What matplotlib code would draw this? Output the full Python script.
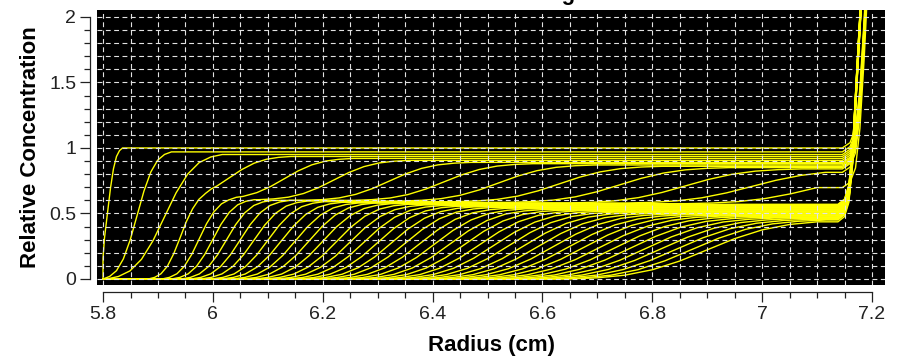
import numpy as np
import matplotlib
matplotlib.use('Agg')
import matplotlib.pyplot as plt
from matplotlib.ticker import MultipleLocator

plt.rcParams['font.family'] = ['Liberation Sans', 'DejaVu Sans']
plt.rcParams['lines.scale_dashes'] = False

# boundary of the slowly sedimenting part, one value per scan (cm)
SLOW_MID = [5.808, 5.862, 5.912, 5.940, 5.975, 6.000, 6.025, 6.050, 6.075, 6.100,
            6.125, 6.150, 6.175, 6.200, 6.225, 6.250, 6.275, 6.300, 6.325, 6.350,
            6.377, 6.404, 6.431, 6.458, 6.485, 6.512, 6.539, 6.566, 6.593, 6.620,
            6.648, 6.676, 6.704, 6.732, 6.760, 6.788, 6.816, 6.844, 6.872, 6.900]
SLOW_WIDTH = [0.011, 0.025, 0.042, 0.023, 0.027, 0.030, 0.033, 0.036, 0.039, 0.041,
              0.044, 0.046, 0.048, 0.050, 0.052, 0.054, 0.056, 0.058, 0.060, 0.062,
              0.064, 0.066, 0.068, 0.070, 0.072, 0.074, 0.076, 0.078, 0.080, 0.082,
              0.084, 0.086, 0.088, 0.090, 0.092, 0.094, 0.096, 0.097, 0.098, 0.100]
SLOW_PLATEAU = [0.620, 0.620, 0.615, 0.610, 0.610, 0.605, 0.600, 0.600, 0.595, 0.590,
                0.585, 0.580, 0.580, 0.575, 0.570, 0.565, 0.560, 0.555, 0.550, 0.545,
                0.540, 0.535, 0.530, 0.525, 0.520, 0.515, 0.510, 0.505, 0.500, 0.495,
                0.490, 0.485, 0.480, 0.475, 0.470, 0.465, 0.460, 0.455, 0.450, 0.445]

# fast boundary, only for the first scans (first three move together with the slow one)
FAST_MID = [5.808, 5.862, 5.912, 6.030, 6.130, 6.220, 6.320, 6.420, 6.520, 6.630,
            6.740, 6.860, 6.980, 7.100]
FAST_WIDTH = [0.011, 0.025, 0.042, 0.045, 0.050, 0.055, 0.060, 0.065, 0.070, 0.075,
              0.080, 0.085, 0.090, 0.095]
TOTAL_PLATEAU = [1.000, 0.970, 0.950, 0.935, 0.920, 0.905, 0.890, 0.880, 0.870, 0.860,
                 0.850, 0.840, 0.830, 0.820]

# shape of one boundary step (offset in widths -> fraction of the step)
SHAPE_Z = [-2.5, -2.0, -1.5, -1.0, -0.5, 0.0, 0.5, 1.0, 1.5, 2.0, 2.5]
SHAPE_FRAC = [0.0, 0.02, 0.065, 0.158, 0.308, 0.5, 0.692, 0.842, 0.935, 0.98, 1.0]

# cell bottom: rise added on top of each scan's last value
BOTTOM_R_EARLY = [7.146, 7.160, 7.170, 7.178, 7.186, 7.200]
BOTTOM_R_LATE = [7.138, 7.150, 7.158, 7.165, 7.172, 7.188]
BOTTOM_RISE = [0.0, 0.04, 0.15, 0.45, 1.0, 2.2]

MENISCUS = 5.8

X_TICKS = [5.8, 6.0, 6.2, 6.4, 6.6, 6.8, 7.0, 7.2]
X_TICK_LABELS = ['5.8', '6', '6.2', '6.4', '6.6', '6.8', '7', '7.2']
Y_TICKS = [0, 0.5, 1, 1.5, 2]
Y_TICK_LABELS = ['0', '0.5', '1', '1.5', '2']


def scan_profile(i):
    z = np.array(SHAPE_Z)
    frac = np.array(SHAPE_FRAC)
    ps = SLOW_PLATEAU[i]
    xs = SLOW_MID[i] + z * SLOW_WIDTH[i]
    bottom_r = BOTTOM_R_LATE
    if i < len(FAST_MID):
        pt = TOTAL_PLATEAU[i]
        bottom_r = BOTTOM_R_EARLY
        if FAST_MID[i] - SLOW_MID[i] < 0.01:
            # both parts still together: one step
            r = xs
            c = pt * frac
        else:
            xf = FAST_MID[i] + z * FAST_WIDTH[i]
            r = np.union1d(xs, xf)
            c = (ps * np.interp(r, xs, frac)
                 + (pt - ps) * np.interp(r, xf, frac))
    else:
        r = xs
        c = ps * frac
    r = np.maximum(r, MENISCUS)
    keep = r < bottom_r[0]
    r, c = r[keep], c[keep]
    if r[0] > MENISCUS:
        r = np.concatenate([[MENISCUS], r])
        c = np.concatenate([[0.0], c])
    last = c[-1]
    r = np.concatenate([r, bottom_r])
    c = np.concatenate([c, last + np.array(BOTTOM_RISE)])
    return r, c


fig = plt.figure(figsize=(9.02, 3.58), dpi=100)
ax = fig.add_axes([97 / 902, 73 / 358, 788 / 902, 275 / 358])
ax.set_facecolor('black')

for i in range(len(SLOW_MID)):
    r, c = scan_profile(i)
    ax.plot(r, c, color='#ffff00', lw=1.0, solid_joinstyle='round')

ax.set_xlim(5.789, 7.2237)
ax.set_ylim(-0.046, 2.053)

ax.set_xticks(X_TICKS)
ax.set_xticklabels(X_TICK_LABELS)
ax.set_yticks(Y_TICKS)
ax.set_yticklabels(Y_TICK_LABELS)
ax.xaxis.set_minor_locator(MultipleLocator(0.05))
ax.yaxis.set_minor_locator(MultipleLocator(0.1))

for side in ['top', 'right']:
    ax.spines[side].set_visible(False)
ax.spines['left'].set_position(('outward', 5))
ax.spines['bottom'].set_position(('outward', 5))
ax.spines['left'].set_bounds(0, 2)
ax.spines['bottom'].set_bounds(5.8, 7.2)
for side in ['left', 'bottom']:
    ax.spines[side].set_linewidth(0.9)
    ax.spines[side].set_color('#222222')

ax.tick_params(which='major', length=7, width=0.9, direction='out',
               labelsize=14, pad=3, colors='#222222')
ax.tick_params(which='minor', length=4, width=0.9, direction='out', colors='#222222')

ax.set_axisbelow(False)
ax.grid(True, which='both', color='#e2e2e2', linestyle=(0, (3.5, 2.5)), linewidth=0.8)

ax.set_xlabel('Radius (cm)', fontsize=16, fontweight='bold', labelpad=9)
ax.set_ylabel('Relative Concentration', fontsize=16, fontweight='bold', labelpad=6)

fig.text(575 / 902, 1.0, 'Sedimenting', ha='right', va='baseline',
         fontsize=16, fontweight='bold')

fig.savefig('out.png', dpi=100)
